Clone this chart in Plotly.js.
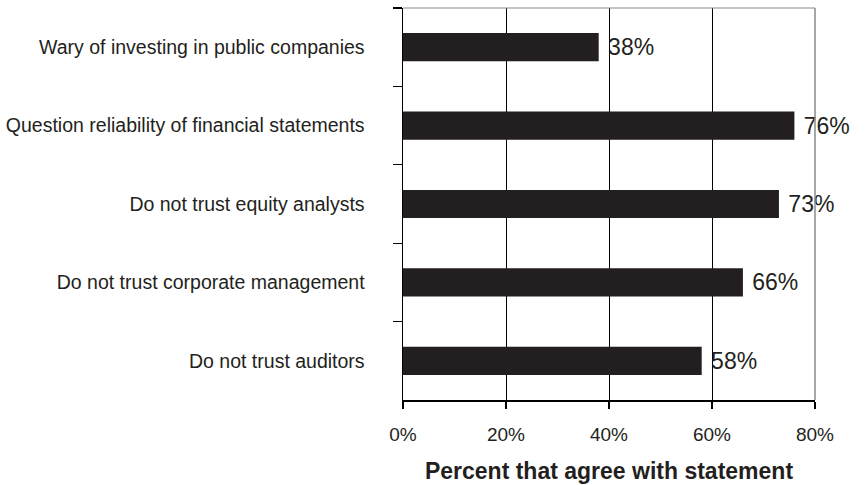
<!DOCTYPE html>
<html>
<head>
<meta charset="utf-8">
<script src="https://cdn.plot.ly/plotly-3.0.1.min.js"></script>
<style>
  html, body { margin: 0; padding: 0; background: #fff; }
  #chart { width: 866px; height: 485px; }
</style>
</head>
<body>
<div id="chart"></div>
<script>
const categories = [
  "Wary of investing in public companies",
  "Question reliability of financial statements",
  "Do not trust equity analysts",
  "Do not trust corporate management",
  "Do not trust auditors"
];
const percents = [38, 76, 73, 66, 58];
const tickValues = [0, 20, 40, 60, 80];
const tickLabels = ["0%", "20%", "40%", "60%", "80%"];
const xTitle = "Percent that agree with statement";

const ink = "#231f20";
const font = "Liberation Sans, Arial, Helvetica, sans-serif";

const trace = {
  type: "bar",
  orientation: "h",
  x: percents,
  y: categories,
  width: 0.36,
  marker: { color: ink, line: { width: 0 } },
  texttemplate: "\u00a0%{x}%",
  textposition: "outside",
  cliponaxis: false,
  textfont: { family: font, size: 23, color: ink },
  hoverinfo: "skip"
};

const layout = {
  width: 866,
  height: 485,
  margin: { l: 403, r: 51, t: 8, b: 85 },
  paper_bgcolor: "#ffffff",
  plot_bgcolor: "#ffffff",
  showlegend: false,
  font: { family: font, color: ink },
  xaxis: {
    range: [0, 80],
    tickvals: tickValues,
    ticktext: tickLabels,
    showgrid: true,
    gridcolor: "#000000",
    gridwidth: 1,
    zeroline: false,
    showline: true,
    linecolor: "#000000",
    linewidth: 1.5,
    ticks: "outside",
    ticklen: 7,
    tickwidth: 1.2,
    tickcolor: "#000000",
    ticklabelstandoff: 10,
    tickfont: { family: font, size: 19, color: ink },
    title: { text: xTitle, font: { family: font, size: 23, color: ink, weight: "bold" }, standoff: 18 },
    fixedrange: true
  },
  yaxis: {
    type: "category",
    categoryorder: "array",
    categoryarray: categories,
    autorange: "reversed",
    tickson: "boundaries",
    showgrid: false,
    zeroline: false,
    showline: true,
    linecolor: "#000000",
    linewidth: 1.5,
    ticks: "outside",
    ticklen: 9,
    tickwidth: 1.2,
    tickcolor: "#000000",
    ticklabelstandoff: 33,
    tickfont: { family: font, size: 19.5, color: ink },
    fixedrange: true
  },
  shapes: [
    { type: "line", xref: "paper", yref: "paper", x0: 0, x1: 1, y0: 1, y1: 1,
      line: { color: "#8a8a8a", width: 1.2 } },
    { type: "line", xref: "paper", yref: "paper", x0: 1, x1: 1, y0: 0, y1: 1,
      line: { color: "#8a8a8a", width: 1.5 } }
  ]
};

Plotly.newPlot("chart", [trace], layout, { displayModeBar: false, staticPlot: true });
</script>
</body>
</html>
